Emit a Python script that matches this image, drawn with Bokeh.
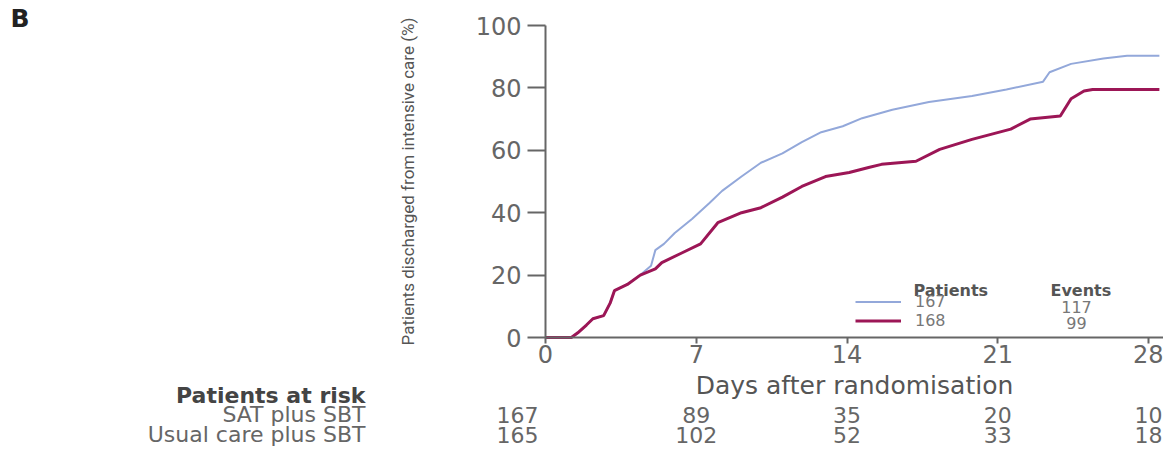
from bokeh.plotting import figure
from bokeh.models import Range1d, FixedTicker, Label, Legend, LegendItem
from bokeh.embed import file_html
from bokeh.resources import INLINE

# ---- data ----
sat_days = [0, 1.2, 1.5, 1.9, 2.2, 2.7, 3.0, 3.2, 3.8, 4.4, 4.9, 5.1, 5.5, 6.0, 6.8, 7.6, 8.2,
            9.1, 10.0, 11.0, 11.9, 12.8, 13.8, 14.7, 16.1, 17.8, 19.8, 21.4, 23.1, 23.4, 24.4,
            25.9, 27.0, 28.5]
sat_pct = [0, 0, 1.5, 4, 6, 7, 11, 15, 17, 20, 23, 28, 30, 33.5, 38, 43, 47,
           51.6, 56, 59, 62.6, 65.8, 67.7, 70.3, 73, 75.5, 77.4, 79.5, 82, 85, 87.7,
           89.4, 90.3, 90.3]
usual_days = [0, 1.2, 1.5, 1.9, 2.2, 2.7, 3.0, 3.2, 3.8, 4.4, 5.1, 5.4, 6.3, 7.2, 8.0, 9.1,
              10.0, 11.0, 11.9, 13.0, 14.1, 15.0, 15.6, 17.2, 18.3, 19.8, 21.6, 22.5, 23.9,
              24.4, 25.0, 25.4, 28.5]
usual_pct = [0, 0, 1.5, 4, 6, 7, 11, 15, 17, 20, 22, 24, 27, 30, 36.8, 40,
             41.6, 45, 48.4, 51.6, 52.9, 54.5, 55.5, 56.5, 60.3, 63.5, 66.8, 70, 71,
             76.5, 79, 79.5, 79.5]

x_ticks = [0, 7, 14, 21, 28]
y_ticks = [0, 20, 40, 60, 80, 100]

risk_days = [0, 7, 14, 21, 28]
risk_sat = [167, 89, 35, 20, 10]
risk_usual = [165, 102, 52, 33, 18]
group_names = ["SAT plus SBT", "Usual care plus SBT"]
legend_patients = ["167", "168"]
legend_events = ["117", "99"]

# ---- layout / styling ----
W, H = 1163, 451
X0_PX, PX_PER_DAY = 545, 21.54     # page x of day 0, pixels per day
Y0_PX, PX_PER_PCT = 337, 3.12      # page y of 0 %, pixels per percent
BLUE = "#93a8da"
RED = "#9c1656"
GREY = "#555555"
FONT = "DejaVu Sans"

x_start = -X0_PX / PX_PER_DAY
x_end = (W - X0_PX) / PX_PER_DAY
y_end = Y0_PX / PX_PER_PCT
y_start = -(H - Y0_PX) / PX_PER_PCT

p = figure(width=W, height=H, output_backend="svg", toolbar_location=None,
           x_range=Range1d(x_start, x_end), y_range=Range1d(y_start, y_end),
           min_border=0)
p.outline_line_color = None
p.grid.visible = False
p.background_fill_color = "white"

blue = p.line(sat_days, sat_pct, line_color=BLUE, line_width=2)
red = p.line(usual_days, usual_pct, line_color=RED, line_width=3)

# axes, drawn at fixed data locations
p.xaxis.fixed_location = 0
p.yaxis.fixed_location = 0
p.xaxis.bounds = (0, x_end)
p.yaxis.bounds = (0, 100)
p.xaxis.ticker = FixedTicker(ticks=x_ticks)
p.yaxis.ticker = FixedTicker(ticks=y_ticks)
for ax in (p.xaxis, p.yaxis):
    ax.axis_line_color = "#666666"
    ax.axis_line_width = 2
    ax.major_tick_line_color = "#666666"
    ax.major_tick_line_width = 2
    ax.minor_tick_line_color = None
    ax.major_tick_in = 0
    ax.major_label_text_color = "#666666"
    ax.major_label_text_font = FONT
    ax.major_label_text_font_size = "24px"
    ax.axis_label_text_color = GREY
    ax.axis_label_text_font_style = "normal"

p.yaxis.major_tick_out = 18
p.yaxis.major_label_standoff = 6
p.yaxis.axis_label = "Patients discharged from intensive care (%)"
p.yaxis.axis_label_text_font = "Roboto"
p.yaxis.axis_label_text_font_size = "17px"
p.yaxis.axis_label_standoff = 55

p.xaxis.major_tick_out = 6
p.xaxis.major_label_standoff = 1
p.xaxis.axis_label = "Days after randomisation"
p.xaxis.axis_label_text_font = FONT
p.xaxis.axis_label_text_font_size = "25px"
p.xaxis.axis_label_standoff = 5

# legend (patients / events)
legend = Legend(items=[LegendItem(label=legend_patients[0], renderers=[blue]),
                       LegendItem(label=legend_patients[1], renderers=[red])],
                location=(855, 121), orientation="vertical",
                glyph_width=46, glyph_height=17, label_height=17, spacing=0,
                label_standoff=14, padding=0, margin=0,
                border_line_color=None, background_fill_alpha=0,
                label_text_font=FONT, label_text_font_size="16px",
                label_text_color="#777777")
p.add_layout(legend)


def lab(text, px, py, size="16px", style="normal", align="left", color="#777777",
        xu="screen", x_offset=0):
    # px: page x (or data x when xu == "data"); py: page y from the top
    p.add_layout(Label(x=px, y=H - py, x_units=xu, y_units="screen", text=text,
                       text_font=FONT, text_font_size=size, text_font_style=style,
                       text_align=align, text_baseline="middle", text_color=color,
                       x_offset=x_offset))


lab("Patients", 913, 290, style="bold", color="#555555")
lab("Events", 1050, 290, style="bold", color="#555555")
for ev, py in zip(legend_events, [306, 322]):
    lab(ev, 1076, py, align="center")

# panel letter
lab("B", 10, 18, size="25px", style="bold", color="#222222")

# patients at risk table
lab("Patients at risk", 365, 395, size="22px", style="bold", align="right", color="#444444")
rows_py = [414, 434]
for name, py in zip(group_names, rows_py):
    lab(name, 365, py, size="22px", align="right", color="#666666")
for d, a, b in zip(risk_days, risk_sat, risk_usual):
    off = -28 if d == 0 else 0
    lab(str(a), d, rows_py[0], size="22px", align="center", color="#666666", xu="data", x_offset=off)
    lab(str(b), d, rows_py[1], size="22px", align="center", color="#666666", xu="data", x_offset=off)

open("out.html", "w").write(file_html(p, INLINE))
